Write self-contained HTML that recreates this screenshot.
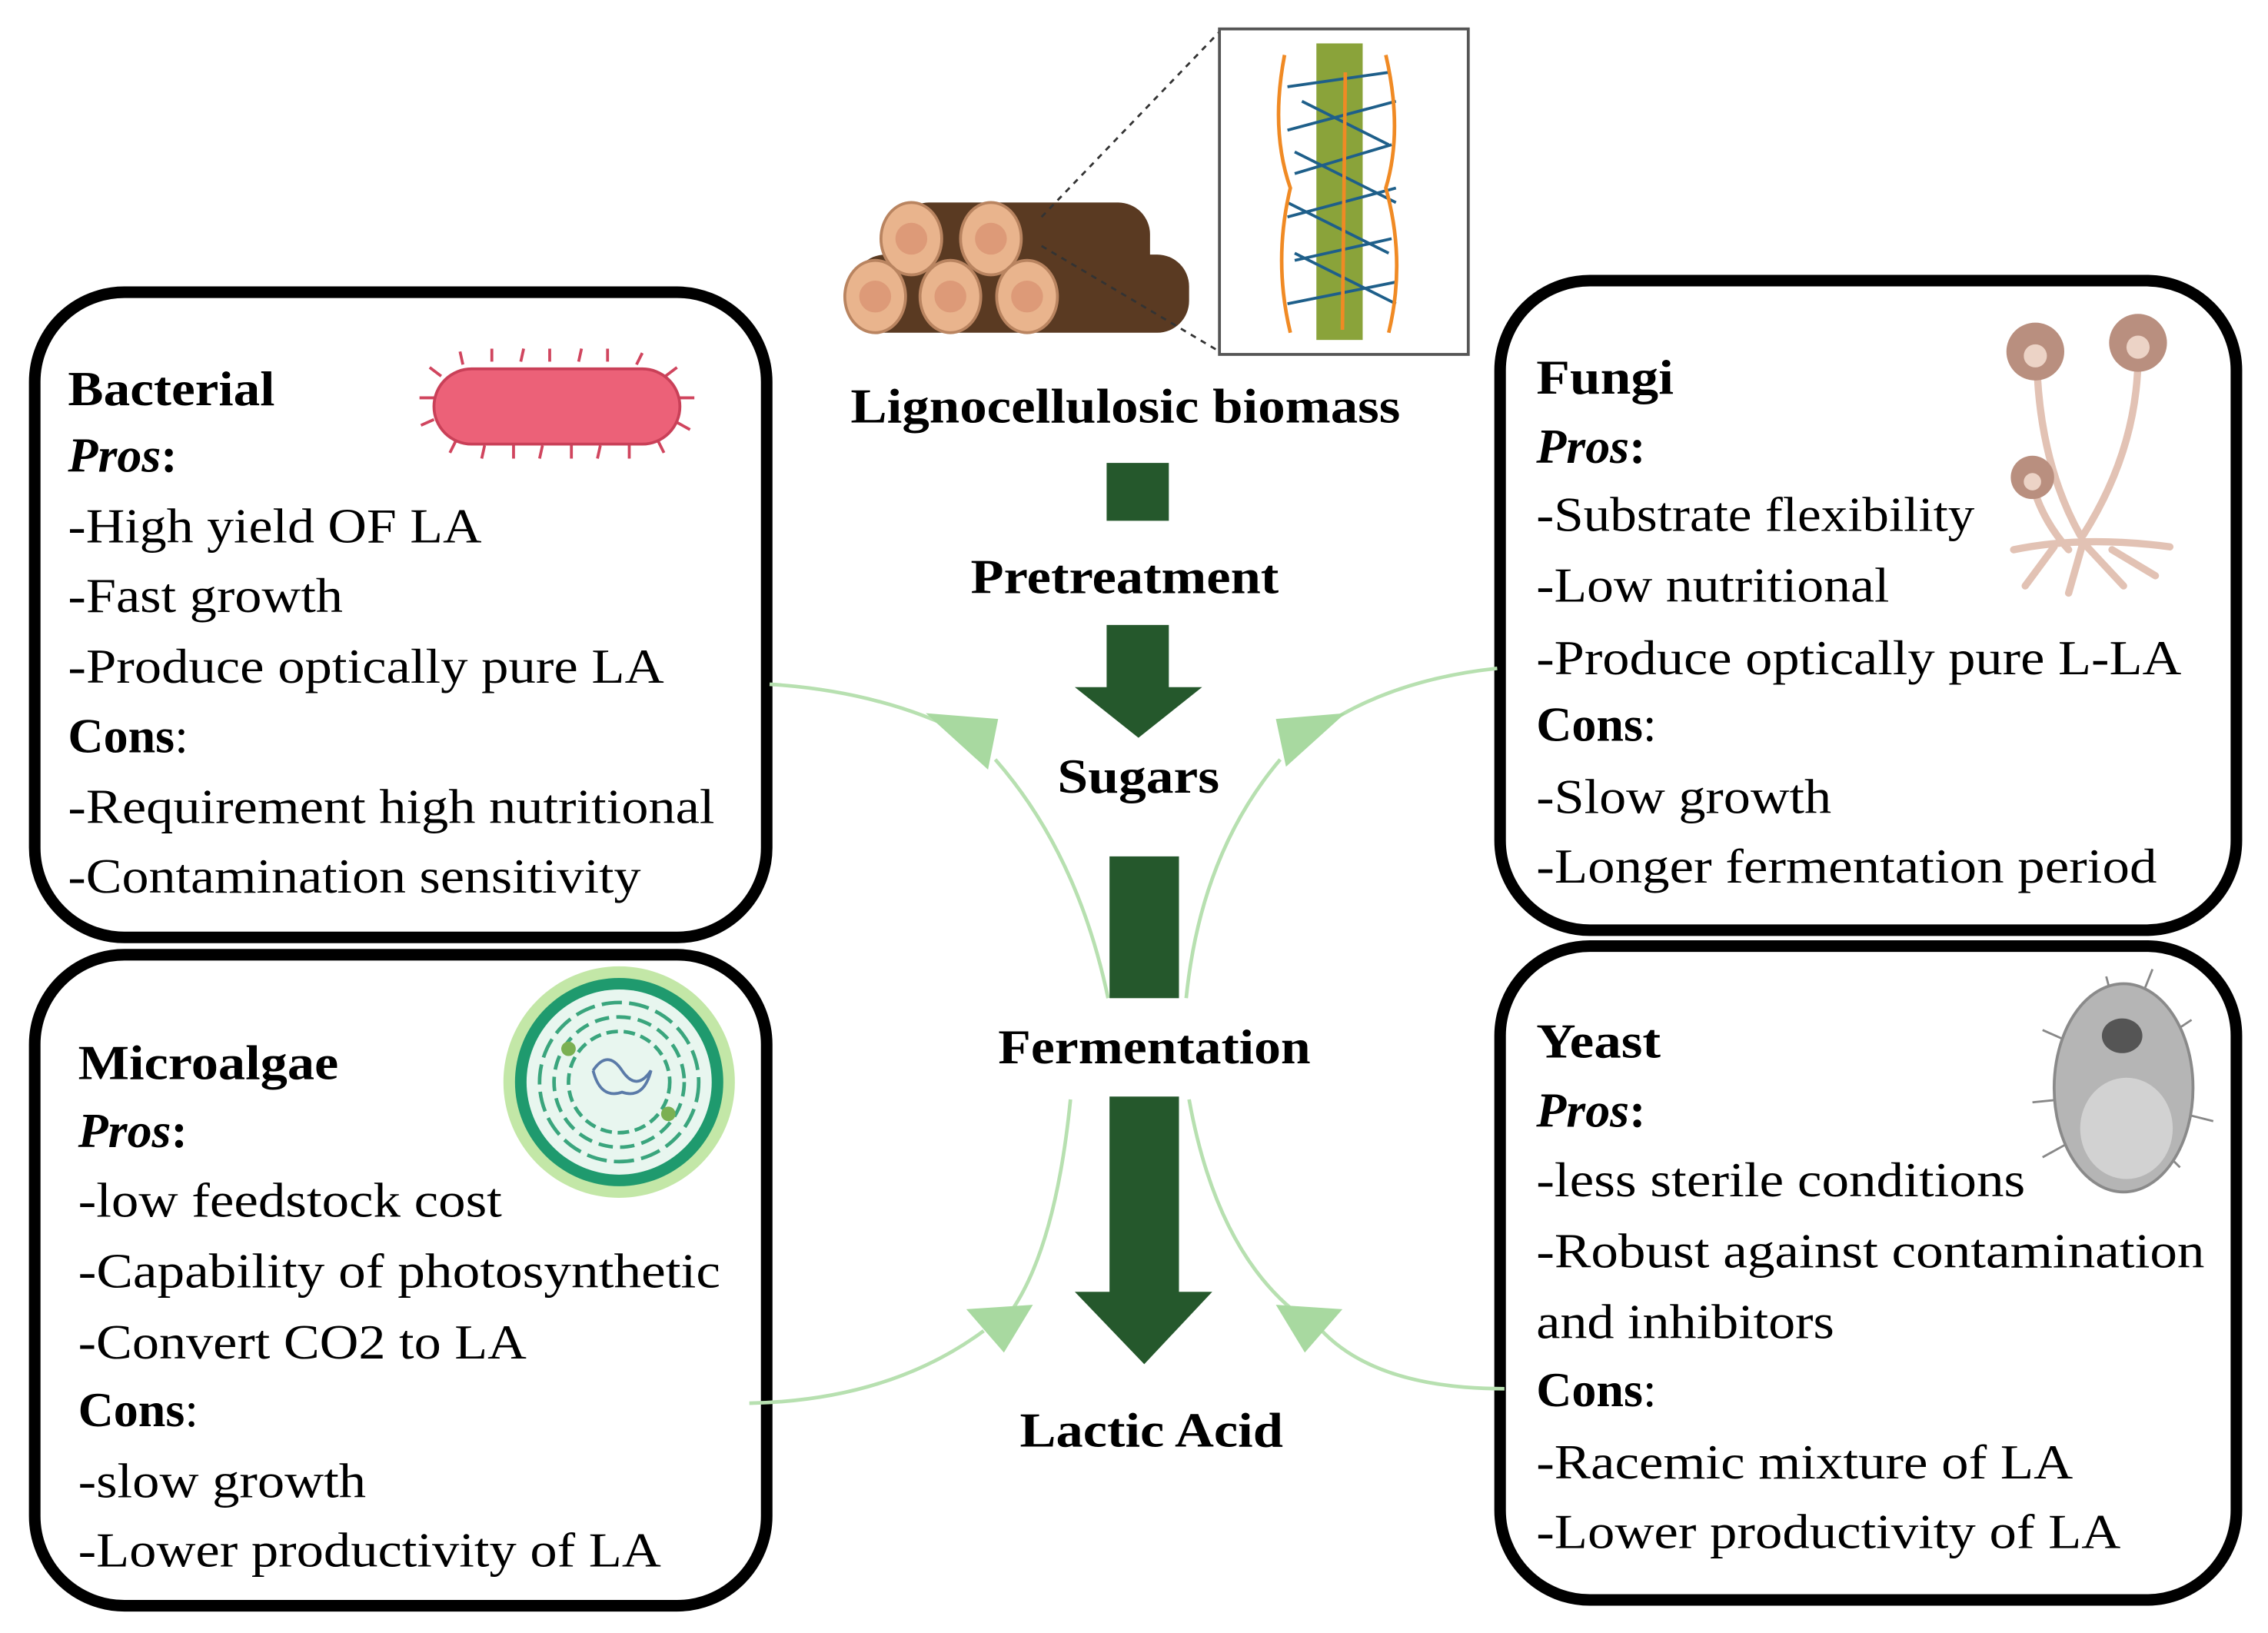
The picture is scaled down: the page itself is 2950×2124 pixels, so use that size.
<!DOCTYPE html>
<html><head><meta charset="utf-8"><style>
html,body{margin:0;padding:0;background:#fff;}
svg{display:block;}
text{font-family:"Liberation Serif",serif;fill:#000;}
.b{font-weight:bold;}
</style></head><body>
<svg width="2950" height="2124" viewBox="0 0 1560 1123.2" xmlns="http://www.w3.org/2000/svg">
<rect width="1560" height="1124" fill="#fff"/>
<g transform="scale(0.995)">
<!-- boxes -->
<g fill="none" stroke="#000" stroke-width="8">
<rect x="24" y="202" width="506" height="446" rx="62"/>
<rect x="24" y="660" width="506" height="450" rx="62"/>
<rect x="1037" y="194" width="509" height="449" rx="62"/>
<rect x="1037" y="654" width="509" height="452" rx="62"/>
</g>
<!-- light green connectors -->
<g fill="none" stroke="#b7e0b0" stroke-width="2.5">
<path d="M532,473 Q610,478 668,508"/>
<path d="M688,525 Q745,590 766,690"/>
<path d="M1035,462 Q960,470 910,505"/>
<path d="M885,525 Q830,590 820,690"/>
<path d="M518,970 Q615,968 680,920"/>
<path d="M740,760 Q730,860 700,905"/>
<path d="M1040,960 Q950,960 912,918"/>
<path d="M822,760 Q840,860 893,905"/>
</g>
<g fill="#a8d9a0">
<polygon points="640,493 690,497 683,532"/>
<polygon points="930,493 889,530 882,497"/>
<polygon points="668,905 714,902 694,935"/>
<polygon points="928,905 882,902 902,935"/>
</g>
<!-- dark green arrows -->
<g fill="#25582c">
<rect x="765" y="320" width="43" height="40"/>
<polygon points="765,432 808,432 808,475 831,475 787,510 743,475 765,475"/>
<rect x="767" y="592" width="48" height="98"/>
<polygon points="767,758 815,758 815,893 838,893 791,943 743,893 767,893"/>
</g>
<!-- center labels -->
<g class="b" font-size="34">
<text class="b" x="588" y="292" textLength="380" lengthAdjust="spacingAndGlyphs">Lignocellulosic biomass</text>
<text class="b" x="671" y="410" textLength="213" lengthAdjust="spacingAndGlyphs">Pretreatment</text>
<text class="b" x="731" y="548" textLength="112" lengthAdjust="spacingAndGlyphs">Sugars</text>
<text class="b" x="690" y="735" textLength="216" lengthAdjust="spacingAndGlyphs">Fermentation</text>
<text class="b" x="705" y="1000" textLength="182" lengthAdjust="spacingAndGlyphs">Lactic Acid</text>
</g>
<!-- logs -->
<g>
<rect x="620" y="140" width="175" height="58" rx="22" fill="#5a3a22"/>
<rect x="590" y="176" width="232" height="54" rx="22" fill="#5a3a22"/>
<g fill="#e9b48d" stroke="#b98460" stroke-width="2">
<ellipse cx="630" cy="165" rx="21" ry="25"/><ellipse cx="685" cy="165" rx="21" ry="25"/>
<ellipse cx="605" cy="205" rx="21" ry="25"/><ellipse cx="657" cy="205" rx="21" ry="25"/><ellipse cx="710" cy="205" rx="21" ry="25"/>
</g>
<g fill="#dd9a78"><circle cx="630" cy="165" r="11"/><circle cx="685" cy="165" r="11"/><circle cx="605" cy="205" r="11"/><circle cx="657" cy="205" r="11"/><circle cx="710" cy="205" r="11"/></g>
</g>
<g stroke="#333" stroke-width="1.5" stroke-dasharray="4,4" fill="none">
<line x1="720" y1="150" x2="843" y2="22"/><line x1="720" y1="170" x2="843" y2="243"/>
</g>
<rect x="843" y="20" width="172" height="225" fill="#fff" stroke="#555" stroke-width="2"/>
<rect x="910" y="30" width="32" height="205" fill="#8aa33a"/>
<g stroke="#1e5f8a" stroke-width="2" fill="none">
<path d="M890,60 L960,50 M890,90 L965,70 M895,120 L962,100 M890,150 L965,130 M895,180 L962,165 M890,210 L965,195 M900,70 L960,100 M895,105 L965,140 M890,140 L960,175 M895,175 L965,210"/>
</g>
<g stroke="#f08a24" stroke-width="2.5" fill="none">
<path d="M888,38 Q878,90 892,130 Q880,180 892,230"/>
<path d="M958,38 Q970,90 958,130 Q972,180 960,230"/>
<path d="M930,50 L928,228"/>
</g>
<!-- bacterium -->
<g stroke="#d0455e" stroke-width="2" fill="none">
<path d="M305,260 l-8,-6 M320,252 l-2,-9 M340,250 l0,-9 M360,250 l2,-9 M380,250 l0,-9 M400,250 l2,-9 M420,250 l0,-9 M440,252 l4,-8 M460,260 l8,-6 M470,275 l10,0 M468,292 l9,5 M455,305 l4,8 M435,308 l0,9 M415,308 l-2,9 M395,308 l0,9 M375,308 l-2,9 M355,308 l0,9 M335,308 l-2,9 M315,305 l-4,8 M300,290 l-9,4 M300,275 l-10,0"/>
</g>
<rect x="300" y="255" width="170" height="52" rx="26" fill="#ec6178" stroke="#c94058" stroke-width="2"/>
<!-- fungi -->
<g stroke="#e2c2b4" stroke-width="5" fill="none" stroke-linecap="round">
<path d="M1408,250 Q1410,320 1438,370"/>
<path d="M1478,245 Q1478,310 1440,370"/>
<path d="M1405,335 Q1412,360 1430,380"/>
<path d="M1392,380 Q1440,370 1500,378 M1440,375 L1430,410 M1440,375 L1468,405 M1420,378 L1400,405 M1460,380 L1490,398"/>
</g>
<g fill="#b98f7f"><circle cx="1407" cy="243" r="20"/><circle cx="1478" cy="237" r="20"/><circle cx="1405" cy="330" r="15"/></g>
<g fill="#ecd3c6"><circle cx="1407" cy="246" r="8"/><circle cx="1478" cy="240" r="8"/><circle cx="1405" cy="333" r="6"/></g>
<!-- microalgae -->
<circle cx="428" cy="748" r="80" fill="#c3e7a7"/>
<circle cx="428" cy="748" r="72" fill="#1f9a6e"/>
<circle cx="428" cy="748" r="64" fill="#e8f6ef"/>
<g fill="none" stroke="#3aa57d" stroke-width="2.5"><circle cx="428" cy="748" r="55" stroke-dasharray="14,5"/><circle cx="428" cy="748" r="45" stroke-dasharray="10,5"/><circle cx="428" cy="748" r="35" stroke-dasharray="8,4"/></g>
<path d="M410,740 q10,-15 20,0 q10,15 20,0 q-5,20 -20,15 q-15,5 -20,-15" fill="none" stroke="#5a7aa8" stroke-width="2"/>
<circle cx="393" cy="725" r="5" fill="#7bb052"/><circle cx="462" cy="770" r="5" fill="#7bb052"/>
<!-- yeast -->
<g stroke="#888" stroke-width="1.5" fill="none"><path d="M1430,720 l-18,-8 M1425,760 l-20,2 M1430,790 l-18,10 M1500,715 l15,-10 M1510,770 l20,5 M1495,795 l12,12 M1460,690 l-4,-15 M1480,690 l8,-20"/></g>
<ellipse cx="1468" cy="752" rx="48" ry="72" fill="#b5b5b5" stroke="#8a8a8a" stroke-width="2"/>
<ellipse cx="1470" cy="780" rx="32" ry="35" fill="#d2d2d2"/>
<ellipse cx="1467" cy="716" rx="14" ry="12" fill="#555"/>
<!-- texts -->
<g font-size="34">
<text class="b" x="47" y="280" textLength="143" lengthAdjust="spacingAndGlyphs">Bacterial</text>
<text x="47" y="326"><tspan class="b" font-style="italic">Pros</tspan><tspan class="b">:</tspan></text>
<text x="47" y="375" textLength="286" lengthAdjust="spacingAndGlyphs">-High yield OF LA</text>
<text x="47" y="423" textLength="190" lengthAdjust="spacingAndGlyphs">-Fast growth</text>
<text x="47" y="472" textLength="412" lengthAdjust="spacingAndGlyphs">-Produce optically pure LA</text>
<text x="47" y="520"><tspan class="b">Cons</tspan>:</text>
<text x="47" y="569" textLength="447" lengthAdjust="spacingAndGlyphs">-Requirement high nutritional</text>
<text x="47" y="617" textLength="396" lengthAdjust="spacingAndGlyphs">-Contamination sensitivity</text>

<text class="b" x="1062" y="272" textLength="95" lengthAdjust="spacingAndGlyphs">Fungi</text>
<text x="1062" y="320"><tspan class="b" font-style="italic">Pros</tspan><tspan class="b">:</tspan></text>
<text x="1062" y="367" textLength="303" lengthAdjust="spacingAndGlyphs">-Substrate flexibility</text>
<text x="1062" y="416" textLength="244" lengthAdjust="spacingAndGlyphs">-Low nutritional</text>
<text x="1062" y="466" textLength="446" lengthAdjust="spacingAndGlyphs">-Produce optically pure L-LA</text>
<text x="1062" y="512"><tspan class="b">Cons</tspan>:</text>
<text x="1062" y="562" textLength="204" lengthAdjust="spacingAndGlyphs">-Slow growth</text>
<text x="1062" y="610" textLength="429" lengthAdjust="spacingAndGlyphs">-Longer fermentation period</text>

<text class="b" x="54" y="746" textLength="180" lengthAdjust="spacingAndGlyphs">Microalgae</text>
<text x="54" y="793"><tspan class="b" font-style="italic">Pros</tspan><tspan class="b">:</tspan></text>
<text x="54" y="841" textLength="293" lengthAdjust="spacingAndGlyphs">-low feedstock cost</text>
<text x="54" y="890" textLength="444" lengthAdjust="spacingAndGlyphs">-Capability of photosynthetic</text>
<text x="54" y="939" textLength="310" lengthAdjust="spacingAndGlyphs">-Convert CO2 to LA</text>
<text x="54" y="986"><tspan class="b">Cons</tspan>:</text>
<text x="54" y="1035" textLength="199" lengthAdjust="spacingAndGlyphs">-slow growth</text>
<text x="54" y="1083" textLength="403" lengthAdjust="spacingAndGlyphs">-Lower productivity of LA</text>

<text class="b" x="1062" y="731" textLength="86" lengthAdjust="spacingAndGlyphs">Yeast</text>
<text x="1062" y="779"><tspan class="b" font-style="italic">Pros</tspan><tspan class="b">:</tspan></text>
<text x="1062" y="827" textLength="338" lengthAdjust="spacingAndGlyphs">-less sterile conditions</text>
<text x="1062" y="876" textLength="462" lengthAdjust="spacingAndGlyphs">-Robust against contamination</text>
<text x="1062" y="925" textLength="206" lengthAdjust="spacingAndGlyphs">and inhibitors</text>
<text x="1062" y="972"><tspan class="b">Cons</tspan>:</text>
<text x="1062" y="1022" textLength="371" lengthAdjust="spacingAndGlyphs">-Racemic mixture of LA</text>
<text x="1062" y="1070" textLength="404" lengthAdjust="spacingAndGlyphs">-Lower productivity of LA</text>
</g>
</g>
</svg>
</body></html>
